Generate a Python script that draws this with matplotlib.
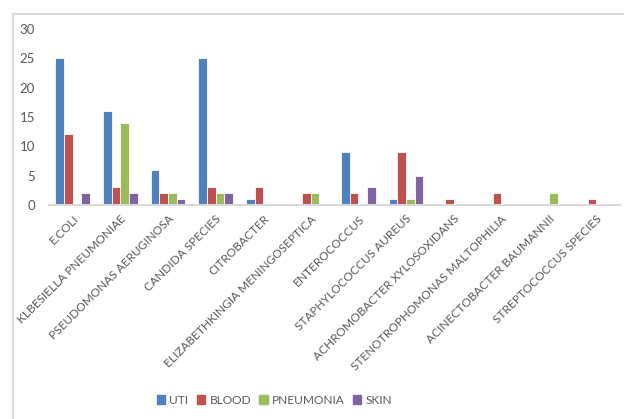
import numpy as np
import matplotlib
matplotlib.use('Agg')
import matplotlib.pyplot as plt
from matplotlib.lines import Line2D

plt.rcParams['font.family'] = ['Lato', 'DejaVu Sans']

organisms = ['E.COLI', 'KLBESIELLA PNEUMONIAE', 'PSEUDOMONAS AERUGINOSA',
             'CANDIDA SPECIES', 'CITROBACTER', 'ELIZABETHKINGIA MENINGOSEPTICA',
             'ENTEROCOCCUS', 'STAPHYLOCOCCUS AUREUS', 'ACHROMOBACTER XYLOSOXIDANS',
             'STENOTROPHOMONAS MALTOPHILIA', 'ACINECTOBACTER BAUMANNII',
             'STREPTOCOCCUS SPECIES']
uti = [25, 16, 6, 25, 1, 0, 9, 1, 0, 0, 0, 0]
blood = [12, 3, 2, 3, 3, 2, 2, 9, 1, 2, 0, 1]
pneumonia = [0, 14, 2, 2, 0, 2, 0, 1, 0, 0, 2, 0]
skin = [2, 2, 1, 2, 0, 0, 3, 5, 0, 0, 0, 0]

series = [('UTI', uti, '#4F81BD'), ('BLOOD', blood, '#C0504D'),
          ('PNEUMONIA', pneumonia, '#9BBB59'), ('SKIN', skin, '#8064A2')]

fig = plt.figure(figsize=(6.24, 4.19), dpi=100)
ax = fig.add_axes([0.0785, 0.511, 0.9155, 0.42])

x = np.arange(len(organisms))
w = 0.182
for i, (name, vals, col) in enumerate(series):
    ax.bar(x + (i - 1.5) * w, vals, w, color=col, edgecolor='white',
           linewidth=0.6, label=name)

ax.set_xlim(-0.5, len(organisms) - 0.5)
ax.set_ylim(0, 30)
ax.set_yticks([0, 5, 10, 15, 20, 25, 30])
ax.set_xticks(x)
ax.set_xticklabels(organisms, rotation=45, ha='right', va='top',
                   rotation_mode='anchor', fontsize=8.6, color='#595959')
ax.tick_params(axis='y', length=0, labelsize=9.5, labelcolor='#595959', pad=10)
ax.tick_params(axis='x', length=0, pad=6)
for s in ['top', 'right', 'left']:
    ax.spines[s].set_visible(False)
ax.spines['bottom'].set_color('#D9D9D9')
ax.spines['bottom'].set_linewidth(1.5)

handles = [plt.Rectangle((0, 0), 1, 1, color=c) for _, _, c in series]
fig.legend(handles, [n for n, _, _ in series], loc='center',
           bbox_to_anchor=(0.44, 0.045), ncol=4, frameon=False,
           fontsize=8.6, handlelength=0.7, handleheight=0.7,
           handletextpad=0.35, columnspacing=0.7, labelcolor='#595959')

# chart border (left and top edges visible in crop)
fig.add_artist(Line2D([0.021, 0.021], [0.0, 0.967], color='#D9D9D9', lw=1.5,
                      transform=fig.transFigure))
fig.add_artist(Line2D([0.021, 1.0], [0.967, 0.967], color='#D9D9D9', lw=1.5,
                      transform=fig.transFigure))

fig.savefig('out.png', dpi=100)
